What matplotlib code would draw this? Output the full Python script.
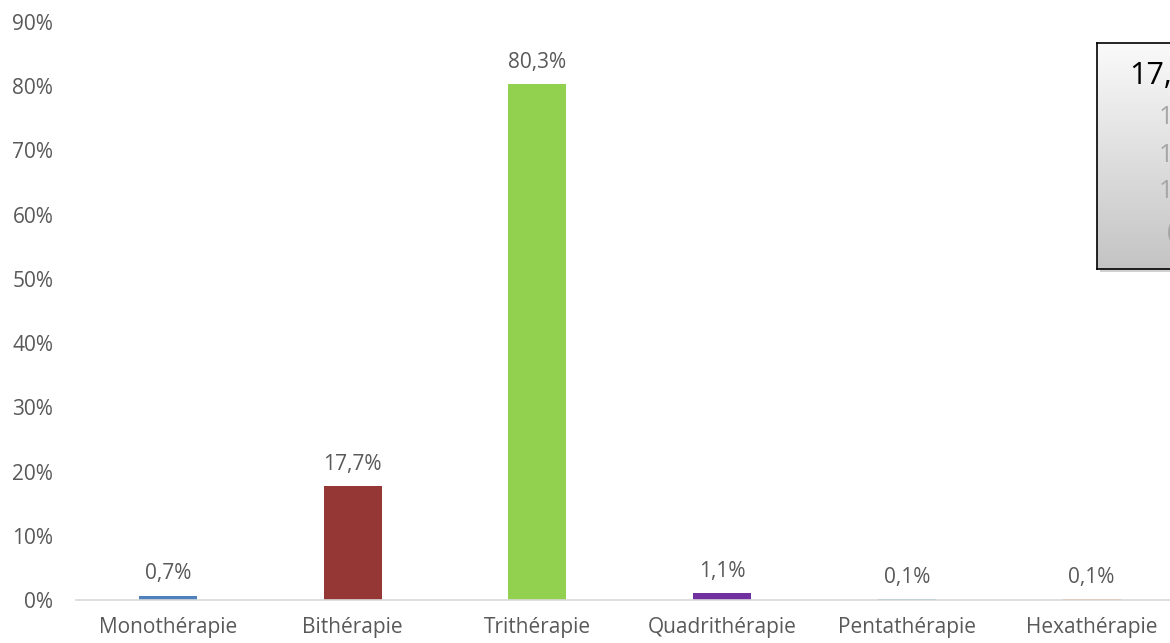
import numpy as np
import matplotlib
matplotlib.use("Agg")
import matplotlib.pyplot as plt

categories = ['Monothérapie', 'Bithérapie', 'Trithérapie', 'Quadrithérapie', 'Pentathérapie', 'Hexathérapie']
values = [0.7, 17.7, 80.3, 1.1, 0.1, 0.1]
labels = ['0,7%', '17,7%', '80,3%', '1,1%', '0,1%', '0,1%']
colors = ['#4F81BD', '#953735', '#92D050', '#7030A0', '#4BACC6', '#F79646']
yticks = [0, 10, 20, 30, 40, 50, 60, 70, 80, 90]

plt.rcParams['font.family'] = ['Open Sans', 'DejaVu Sans']
grey = '#595959'

W, H = 1170, 643
fig = plt.figure(figsize=(W / 100, H / 100), dpi=100)
# plot area is cropped on the right in the original
left, right = 75.5, 1184
top, bottom = 22, 600
ax = fig.add_axes([left / W, (H - bottom) / H, (right - left) / W, (bottom - top) / H])

x = np.arange(len(categories))
ax.bar(x, values, width=0.315, color=colors)
for xi, v, lab in zip(x, values, labels):
    ax.annotate(lab, (xi, v), xytext=(0, 8), textcoords='offset points',
                ha='center', va='bottom', fontsize=15, color=grey)

ax.set_xlim(-0.5, 5.5)
ax.set_ylim(0, 90)
ax.set_xticks(x)
ax.set_xticklabels(categories, fontsize=15, color=grey)
ax.set_yticks(yticks)
ax.set_yticklabels([f'{t}%' for t in yticks], fontsize=15, color=grey)
ax.tick_params(length=0, axis='x', pad=12)
ax.tick_params(length=0, axis='y', pad=16)
for s in ['top', 'right', 'left']:
    ax.spines[s].set_visible(False)
ax.spines['bottom'].set_color('#D9D9D9')
ax.spines['bottom'].set_linewidth(1.2)

# callout box, cut off at the right edge
bx0, by0, bx1, by1 = 1097, 43, 1200, 269
shadow = fig.add_axes([(bx0 + 3) / W, (H - by1 - 3) / H, (bx1 - bx0) / W, (by1 - by0) / H])
shadow.set_facecolor('#D0D0D0')
shadow.set_xticks([]); shadow.set_yticks([])
for s in shadow.spines.values():
    s.set_visible(False)
box = fig.add_axes([bx0 / W, (H - by1) / H, (bx1 - bx0) / W, (by1 - by0) / H])
grad = np.linspace(1, 0, 256).reshape(-1, 1)
cmap = matplotlib.colors.LinearSegmentedColormap.from_list('g', ['#C4C4C4', '#FAFAFA'])
box.imshow(grad, aspect='auto', cmap=cmap, extent=[0, 1, 0, 1], origin='upper')
box.set_xticks([]); box.set_yticks([])
for s in box.spines.values():
    s.set_color('black')
    s.set_linewidth(1.2)
fig.text(1129 / W, 1 - 76 / H, '17,7%', fontsize=22, color='black', va='center', ha='left')
for yy, xx, t in zip([117, 155, 192, 232], [1159, 1159, 1159, 1167], ['1', '1', '1', '(']):
    fig.text(xx / W, 1 - yy / H, t, fontsize=18, color='#A6A6A6', va='center', ha='left')

fig.savefig('out.png', dpi=100)
